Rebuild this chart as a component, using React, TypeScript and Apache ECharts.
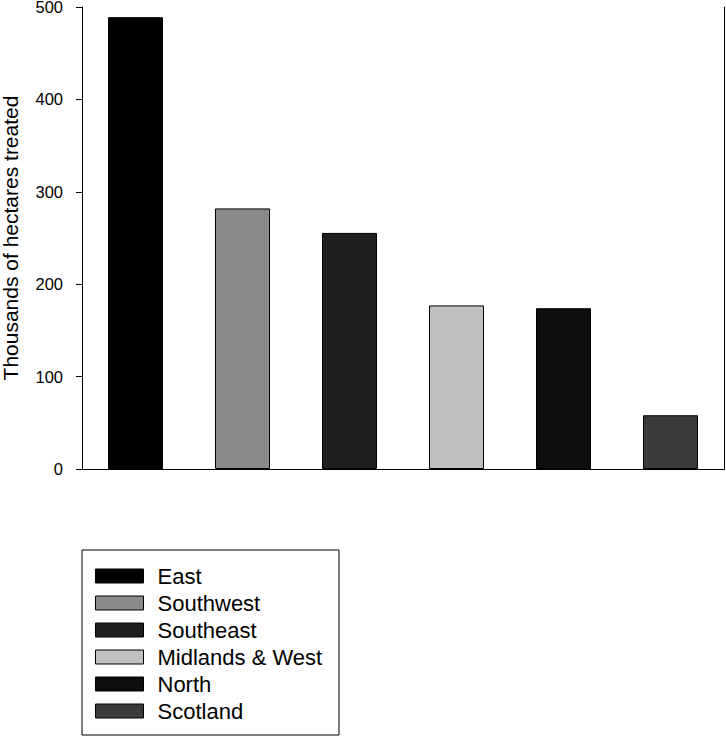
import React, { useEffect, useRef } from "react";
import * as echarts from "echarts";

const categories = ["East", "Southwest", "Southeast", "Midlands & West", "North", "Scotland"];
const values = [489, 282, 255.5, 177, 174, 58.2];
const colors = ["#000000", "#8a8a8a", "#1f1f1f", "#c0c0c0", "#0e0e0e", "#3b3b3b"];
const yTicks = { min: 0, max: 500, interval: 100 };

const FONT = 'Arial, "Liberation Sans", Helvetica, sans-serif';

export default function App() {
  const ref = useRef<HTMLDivElement>(null);
  useEffect(() => {
    if (!ref.current) return;
    const chart = echarts.init(ref.current, null, { renderer: "svg" });
    const series = categories.map((name, i) => ({
      name,
      type: "bar",
      stack: "total",
      barWidth: 55,
      data: values.map((v, j) => (j === i ? v : "-")),
      itemStyle: { color: colors[i], borderColor: "#000", borderWidth: 1 },
    }));
    chart.setOption({
      animation: false,
      backgroundColor: "#ffffff",
      textStyle: { fontFamily: FONT },
      grid: {
        left: 82,
        right: 2,
        top: 7,
        bottom: 268,
        containLabel: false,
        outerBoundsMode: "none",
      },
      xAxis: {
        type: "category",
        data: categories,
        axisLine: { show: true, lineStyle: { color: "#000", width: 1 } },
        axisTick: { show: false },
        axisLabel: { show: false },
        splitLine: { show: false },
      },
      yAxis: [
        {
          type: "value",
          min: yTicks.min,
          max: yTicks.max,
          interval: yTicks.interval,
          name: "Thousands of hectares treated",
          nameLocation: "middle",
          nameGap: 62,
          nameTextStyle: { fontSize: 21, lineHeight: 19, color: "#000", fontFamily: FONT },
          axisLine: { show: true, lineStyle: { color: "#000", width: 1 } },
          axisTick: { show: true, length: 6, lineStyle: { color: "#000" } },
          axisLabel: {
            color: "#000",
            fontSize: 16.5,
            lineHeight: 13,
            margin: 19,
            fontFamily: FONT,
          },
          splitLine: { show: false },
        },
        {
          type: "value",
          position: "right",
          min: yTicks.min,
          max: yTicks.max,
          interval: yTicks.interval,
          axisLine: { show: true, lineStyle: { color: "#000", width: 1 } },
          axisTick: { show: false },
          axisLabel: { show: false },
          splitLine: { show: false },
        },
      ],
      legend: {
        orient: "vertical",
        left: 95,
        top: 565,
        padding: 0,
        itemWidth: 48,
        itemHeight: 14,
        itemGap: 5,
        icon: "rect",
        selectedMode: false,
        itemStyle: { borderColor: "#000", borderWidth: 1 },
        textStyle: {
          fontSize: 22,
          lineHeight: 22,
          color: "#000",
          fontFamily: FONT,
          padding: [0, 0, 0, 9],
        },
        data: categories,
      },
      graphic: [
        {
          type: "rect",
          shape: { x: 82, y: 550, width: 257, height: 185 },
          style: { fill: "none", stroke: "#000", lineWidth: 1 },
          silent: true,
        },
      ],
      series,
    });
    return () => chart.dispose();
  }, []);
  return (
    <div
      ref={ref}
      style={{ position: "absolute", left: 0, top: 0, width: 726, height: 737 }}
    />
  );
}
